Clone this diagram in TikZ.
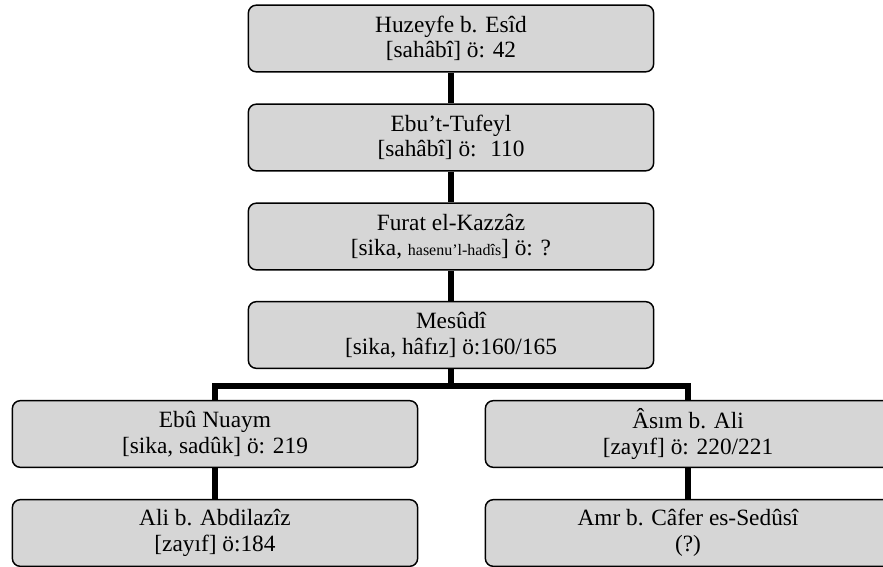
\documentclass[tikz,border=0pt]{standalone}
\usepackage{fontspec}
\setmainfont{Liberation Serif}
\usetikzlibrary{calc}
\definecolor{BoxClr}{rgb}{0.84,0.84,0.84}

\tikzset{
  ravi/.style={draw=black,line width=1.1pt,fill=BoxClr,rounded corners=6pt,
    minimum width=304pt,minimum height=50pt,align=center,inner sep=2pt,
    font=\fontsize{17.5}{19.2}\selectfont},
  link/.style={line width=3.8pt,color=black,line join=miter}
}

\begin{document}
\begin{tikzpicture}[x=0.75pt,y=-0.75pt]
\useasboundingbox (0,0) rectangle (883,567);

% The chain of narrators.
\node[ravi] (Hz) at (451,38.5) {Huzeyfe b. Esîd\\{}[sahâbî] ö: 42};
\node[ravi] (Et) at (451,137.5) {Ebu’t-Tufeyl\\{}[sahâbî] ö: \ 110};
\node[ravi] (Fk) at (451,236.5) {Furat el-Kazzâz\\{}[sika, {\fontsize{12}{13}\selectfont hasenu’l-hadîs}] ö: ?};
\node[ravi] (Ms) at (451,335) {Mesûdî\\{}[sika, hâfız] ö:160/165};

% The two branches.
\node[ravi] (En) at (215,434) {Ebû Nuaym\\{}[sika, sadûk] ö: 219};
\node[ravi] (As) at (688,434) {Âsım b. Ali\\{}[zayıf] ö: 220/221};
\node[ravi] (Aa) at (215,533) {Ali b. Abdilazîz\\{}[zayıf] ö:184};
\node[ravi] (Ac) at (688,533) {Amr b. Câfer es-Sedûsî\\(?)};

% Junction of the branches.
\coordinate (J) at (451,386);

% Draw connectors.
\draw[link] (Hz.south) -- (Et.north);
\draw[link] (Et.south) -- (Fk.north);
\draw[link] (Fk.south) -- (Ms.north);
\draw[link] (Ms.south) -- (J);
\draw[link] (J) -| (En.north);
\draw[link] (J) -| (As.north);
\draw[link] (En.south) -- (Aa.north);
\draw[link] (As.south) -- (Ac.north);

\end{tikzpicture}
\end{document}
